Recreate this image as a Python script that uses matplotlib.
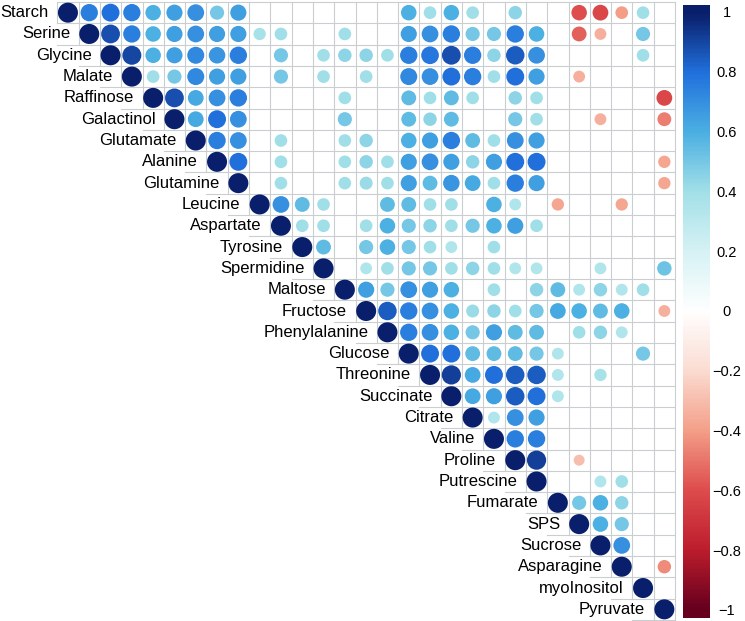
import numpy as np
import matplotlib.pyplot as plt
from matplotlib.colors import LinearSegmentedColormap, Normalize
from matplotlib.patches import Circle

plt.rcParams['font.family'] = ['Liberation Sans', 'DejaVu Sans']

names = ['Starch', 'Serine', 'Glycine', 'Malate', 'Raffinose', 'Galactinol',
         'Glutamate', 'Alanine', 'Glutamine', 'Leucine', 'Aspartate', 'Tyrosine',
         'Spermidine', 'Maltose', 'Fructose', 'Phenylalanine', 'Glucose',
         'Threonine', 'Succinate', 'Citrate', 'Valine', 'Proline', 'Putrescine',
         'Fumarate', 'SPS', 'Sucrose', 'Asparagine', 'myoInositol', 'Pyruvate']

# upper triangle, row i holds correlations with columns i+1 .. end (0 = not shown)
upper = [
    [.75, .80, .75, .60, .65, .70, .50, .65, 0, 0, 0, 0, 0, 0, 0, .60, .40, .60, .40, 0, .45, 0, 0, -.60, -.62, -.40, .40, 0],
    [.88, .75, .60, .65, .70, .65, .65, .38, .40, 0, 0, .40, 0, 0, .65, .70, .75, .50, .50, .75, .60, 0, -.55, -.35, 0, .50, 0],
    [.90, .60, .65, .72, .68, .75, 0, .50, 0, .40, .45, .45, .40, .75, .78, .88, .75, .45, .85, .70, 0, 0, 0, 0, .40, 0],
    [.40, .50, .72, .65, .65, 0, .50, 0, .40, 0, .40, 0, .72, .70, .80, .75, .40, .80, .65, 0, -.35, 0, 0, 0, 0],
    [.88, .62, .70, .75, 0, 0, 0, 0, .40, 0, 0, .55, .40, .55, .40, 0, .45, .40, 0, 0, 0, 0, 0, -.62],
    [.62, .80, .70, 0, 0, 0, 0, .50, 0, 0, .55, .45, .55, 0, 0, .50, .40, 0, 0, -.35, 0, 0, -.48],
    [.75, .70, 0, .40, 0, 0, .40, .45, 0, .60, .65, .75, .55, .40, .70, .65, 0, 0, 0, 0, 0, 0],
    [.80, 0, .40, 0, 0, .40, .45, .40, .65, .70, .65, .45, .65, .80, .80, 0, 0, 0, 0, 0, -.38],
    [0, .40, 0, 0, .40, .42, .40, .65, .55, .68, .62, .40, .75, .65, 0, 0, 0, 0, 0, -.38],
    [.70, .55, .40, 0, 0, .55, .55, .40, .40, 0, .60, .35, 0, -.38, 0, 0, -.38, 0, 0],
    [.40, .40, 0, .40, .60, .50, .45, .40, .50, .60, .65, .40, 0, 0, 0, 0, 0, 0],
    [.55, 0, .50, .60, .50, .40, .35, 0, .40, 0, 0, 0, 0, 0, 0, 0, 0],
    [0, .35, .40, .50, .50, .40, .45, .40, .35, .35, 0, 0, .35, 0, 0, .52],
    [.65, .50, .70, .65, .60, 0, .40, 0, .45, .55, .35, .45, .35, .40, 0],
    [.85, .75, .70, .60, .42, .45, .40, .50, .62, .60, .55, .60, 0, -.35],
    [.75, .70, .60, .50, .65, .55, .55, 0, .40, .45, .35, 0, 0],
    [.80, .80, .55, .55, .55, .50, .35, 0, 0, 0, .50, 0],
    [.92, .62, .80, .85, .85, .35, 0, .38, 0, 0, 0],
    [.62, .65, .85, .80, .35, 0, 0, 0, 0, 0],
    [.35, .70, .65, 0, 0, 0, 0, 0, 0],
    [.75, .75, 0, 0, 0, 0, 0, 0],
    [.92, 0, -.30, 0, 0, 0, 0],
    [0, 0, .35, .40, 0, 0],
    [.50, .60, .45, 0, 0],
    [.60, .50, 0, 0],
    [.70, 0, 0],
    [0, -.45],
    [0],
]

n = len(names)
corr = np.eye(n)
for i, row in enumerate(upper):
    corr[i, i + 1:] = row

stops = [(-1.0, '#67001F'), (-0.8, '#BE1E2D'), (-0.6, '#DE4D4D'), (-0.4, '#F4A089'),
         (-0.2, '#FBDCD2'), (0.0, '#FFFFFF'), (0.2, '#D6F2F5'), (0.4, '#A3E0E8'),
         (0.6, '#4CB0E2'), (0.8, '#2171DD'), (1.0, '#0A1F6B')]
cmap = LinearSegmentedColormap.from_list('corr', [((v + 1) / 2, c) for v, c in stops])
norm = Normalize(-1, 1)

W, H = 745, 621
fig = plt.figure(figsize=(W / 100, H / 100), dpi=100)
ax = fig.add_axes([57.3 / W, 1 - 620 / H, 617.7 / W, 618 / H])
ax.set_xlim(0, n)
ax.set_ylim(n, 0)
ax.axis('off')

grid_kw = dict(color='#C9CFD1', lw=0.8, zorder=1, clip_on=False)
# horizontal grid lines
for r in range(n + 1):
    x0 = max(r - 2, 0) if r > 0 else 0
    ax.plot([x0, n], [r, r], **grid_kw)
# vertical grid lines
for c in range(n + 1):
    ax.plot([c, c], [0, min(c + 1, n)], **grid_kw)

# circles
for i in range(n):
    for j in range(i, n):
        v = corr[i, j]
        if v == 0:
            continue
        rad = 0.47 * np.sqrt(abs(v))
        ax.add_patch(Circle((j + 0.5, i + 0.5), rad, facecolor=cmap(norm(v)),
                            edgecolor='none', zorder=2))

# diagonal labels
for i, name in enumerate(names):
    ax.text(i - 0.4, i + 0.5, name, ha='right', va='center', fontsize=12,
            color='black', clip_on=False, zorder=3)

# colour bar (bar runs a little past -1 and 1, like corrplot)
lo, hi = -1.027, 1.023
cax = fig.add_axes([683 / W, 1 - 618 / H, 27 / W, 613 / H])
grad = np.linspace(hi, lo, 400)[:, None]
cax.imshow(grad, cmap=cmap, norm=norm, aspect='auto', extent=[0, 1, lo, hi])
cax.set_ylim(lo, hi)
cax.set_xticks([])
cax.yaxis.tick_right()
ticks = np.round(np.arange(-1, 1.01, 0.2), 1)
cax.set_yticks(ticks)
cax.set_yticklabels(['1' if t == 1 else '\u22121' if t == -1 else '0' if t == 0
                     else f'{t:g}'.replace('-', '\u2212') for t in ticks])
for s in cax.spines.values():
    s.set_visible(False)
cax.tick_params(length=0, pad=12, labelsize=10.5)
for lab in cax.get_yticklabels():
    lab.set_horizontalalignment('center')

fig.savefig('out.png', dpi=100)
